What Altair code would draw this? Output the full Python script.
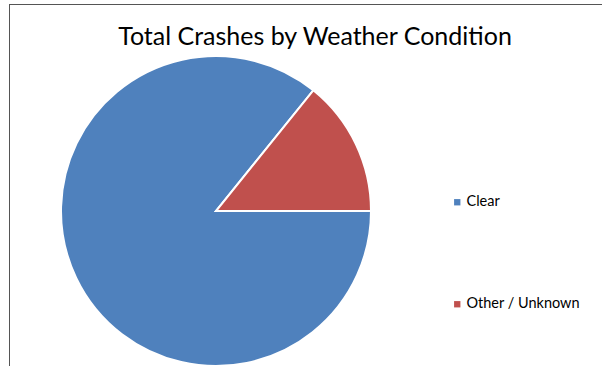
import math
import altair as alt
import pandas as pd

categories = ["Clear", "Other / Unknown"]
shares = [85.8, 14.2]
colors = ["#4F81BD", "#C0504D"]

df = pd.DataFrame({"cond": categories, "share": shares, "idx": [0, 1]})

pie = alt.Chart(df).mark_arc(stroke="white", strokeWidth=2, radius=155).encode(
    theta=alt.Theta("share:Q", stack=True,
                    scale=alt.Scale(range=[math.pi / 2, math.pi / 2 + 2 * math.pi])),
    order=alt.Order("idx:Q"),
    color=alt.Color(
        "cond:N",
        scale=alt.Scale(domain=categories, range=colors),
        legend=alt.Legend(
            title=None, orient="none", legendX=389, legendY=139,
            symbolType="square", symbolSize=40, symbolStrokeWidth=0,
            labelFont="Lato", labelFontSize=14.5, labelColor="#000000",
            rowPadding=87, labelOffset=2,
        ),
    ),
)

frame_top = alt.Chart(df).mark_rule(color="#555555", strokeWidth=1).encode(
    x=alt.value(-51), x2=alt.value(560), y=alt.value(-51.5)
)
frame_left = alt.Chart(df).mark_rule(color="#555555", strokeWidth=1).encode(
    x=alt.value(-51.5), y=alt.value(-52), y2=alt.value(330)
)

chart = alt.layer(frame_top, frame_left, pie).properties(
    width=310, height=310,
    autosize=alt.AutoSizeParams(type="none"),
    padding={"left": 61, "top": 56, "right": 231, "bottom": 0},
    title=alt.TitleParams(
        "Total Crashes by Weather Condition", font="Lato", fontSize=25,
        fontWeight="normal", color="#000000", anchor="middle", dx=99,
        frame="group", offset=10, dy=56,
    ),
).configure(background="white").configure_view(stroke=None)

chart.save("out.html", embed_options={"renderer": "svg", "actions": False})
